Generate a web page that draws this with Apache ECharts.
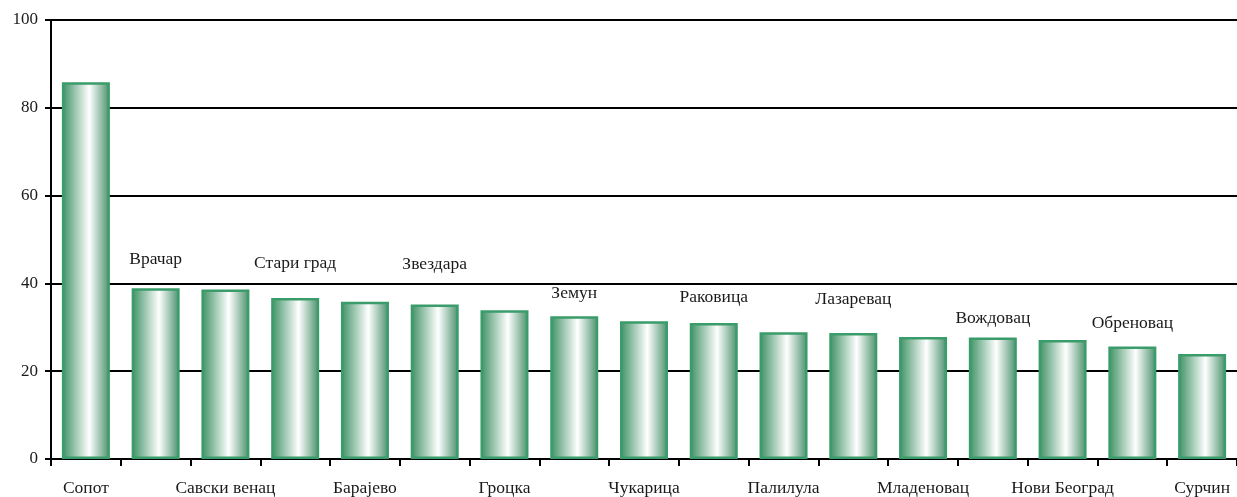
<!DOCTYPE html>
<html><head><meta charset="utf-8">
<script src="https://cdn.jsdelivr.net/npm/echarts@6/dist/echarts.min.js"></script>
<style>html,body{margin:0;padding:0;background:#fff}#c{width:1237px;height:497px}</style>
</head><body><div id="c"></div>
<script>
var categories = ['Сопот','Врачар','Савски венац','Стари град','Барајево','Звездара','Гроцка','Земун','Чукарица','Раковица','Палилула','Лазаревац','Младеновац','Вождовац','Нови Београд','Обреновац','Сурчин'];
var values = [85.8,38.9,38.6,36.7,35.8,35.2,33.9,32.5,31.4,31.0,28.9,28.7,27.8,27.7,27.1,25.6,23.9];
var yTicks = [0,20,40,60,80,100];
// label distances above bar (styling) for top-placed category names
var topLabelDistance = {1:20,3:25,5:31,7:14,9:17,11:25,13:10,15:14};

var FONT = '"Liberation Serif","DejaVu Serif",serif';
var fill = new echarts.graphic.LinearGradient(0,0,1,0,[
  {offset:0,color:'#3b8f62'},{offset:0.57,color:'#ffffff'},{offset:1,color:'#468f6a'}]);

var data = values.map(function(v,i){
  var item = {value:v};
  if (i % 2 === 1) {
    item.label = {show:true, position:'top', distance: topLabelDistance[i],
      formatter: categories[i], fontFamily:FONT, fontSize:17.5, color:'#1a1a1a'};
  }
  return item;
});

var chart = echarts.init(document.getElementById('c'));
chart.setOption({
  animation:false,
  grid:{left:51, top:20, width:1190, height:440, containLabel:false},
  xAxis:{type:'category', data:categories, boundaryGap:true,
    axisLine:{lineStyle:{color:'#000',width:2}},
    axisTick:{show:true, interval:0, length:7, lineStyle:{color:'#000',width:2}},
    axisLabel:{interval:function(i){return i%2===0;}, margin:20,
      fontFamily:FONT, fontSize:17.5, color:'#1a1a1a'}},
  yAxis:{type:'value', min:yTicks[0], max:yTicks[yTicks.length-1], interval:20,
    axisLine:{show:true, lineStyle:{color:'#000',width:2}},
    axisTick:{show:true, length:6, lineStyle:{color:'#000',width:2}},
    axisLabel:{margin:13, fontFamily:FONT, fontSize:17, color:'#1a1a1a'},
    splitLine:{show:true, lineStyle:{color:'#000',width:2}}},
  series:[{type:'bar', data:data, barWidth:48,
    itemStyle:{color:fill, borderColor:'#3a9c6a', borderWidth:2.5}}]
});
</script></body></html>
